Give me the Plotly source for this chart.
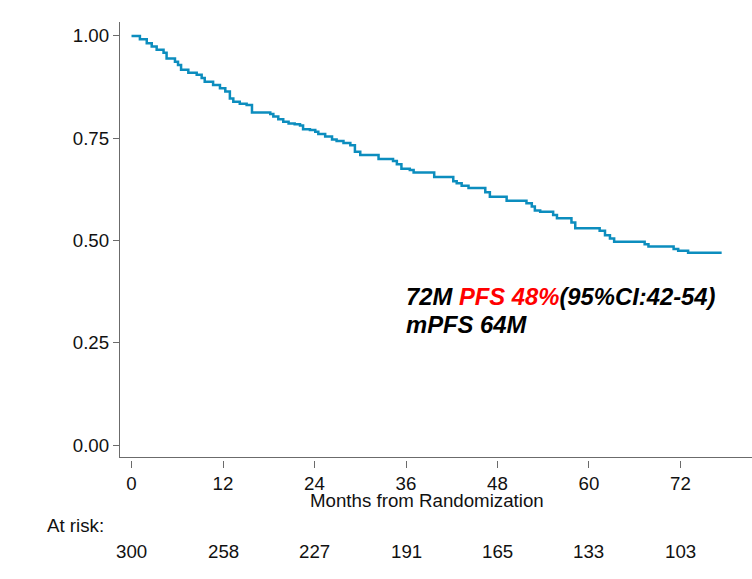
import plotly.graph_objects as go

# Kaplan-Meier progression-free survival estimate (step changes)
months = [0, 1.1, 2.0, 2.65, 3.3, 4.2, 4.6, 5.7, 6.1, 6.5, 7.45, 8.55, 9.2, 9.6,
          10.7, 11.6, 12.3, 12.9, 13.35, 14.2, 15.1, 15.8, 18.2, 18.6, 19.25,
          19.9, 20.6, 21.4, 22.1, 22.5, 23.4, 24.1, 24.5, 25.4, 26.3, 26.9,
          27.8, 28.7, 29.3, 30.0, 32.4, 34.3, 34.8, 35.4, 36.5, 37.0, 39.7,
          42.2, 42.65, 43.3, 44.2, 46.4, 47.0, 49.2, 51.8, 52.5, 52.9, 53.6,
          55.3, 55.8, 57.7, 58.2, 61.4, 62.1, 62.75, 63.3, 67.3, 67.8, 71.1,
          71.7, 73.0, 77.4]
survival = [1.0, 0.992, 0.982, 0.974, 0.966, 0.959, 0.945, 0.937, 0.929, 0.917,
            0.910, 0.905, 0.897, 0.888, 0.880, 0.872, 0.864, 0.847, 0.839,
            0.834, 0.831, 0.8125, 0.809, 0.803, 0.796, 0.790, 0.786, 0.784,
            0.781, 0.772, 0.770, 0.766, 0.760, 0.754, 0.747, 0.743, 0.738,
            0.733, 0.717, 0.709, 0.699, 0.694, 0.686, 0.675, 0.672, 0.666,
            0.655, 0.645, 0.640, 0.634, 0.628, 0.618, 0.607, 0.597, 0.591,
            0.583, 0.573, 0.570, 0.562, 0.554, 0.544, 0.530, 0.524, 0.513,
            0.505, 0.497, 0.491, 0.485, 0.479, 0.475, 0.470, 0.470]

# Number-at-risk table
risk_times = [0, 12, 24, 36, 48, 60, 72]
at_risk = [300, 258, 227, 191, 165, 133, 103]

y_ticks = [0, 0.25, 0.5, 0.75, 1.0]
y_tick_text = ["0.00", "0.25", "0.50", "0.75", "1.00"]

FONT = "Liberation Sans, Arial, sans-serif"
AXIS_GRAY = "#6b6b6b"
CURVE = "#0C8DBE"
TXT = "#111111"
FS = 18.7

W, H = 752, 579
M_L, M_R, M_T, M_B = 120, 0, 22, 119
PLOT_H = H - M_T - M_B
GAP = 3  # space between the x axis line and its tick marks

X_RANGE = [-1.51, 81.38]

fig = go.Figure()
fig.add_trace(go.Scatter(
    x=months, y=survival, mode="lines", line_shape="hv",
    line=dict(color=CURVE, width=2.5), hoverinfo="skip", showlegend=False,
))
# empty trace so the tick-only axis below the plot is drawn
fig.add_trace(go.Scatter(
    x=[risk_times[0]], y=[survival[0]], xaxis="x2", yaxis="y",
    mode="markers", marker=dict(opacity=0), hoverinfo="skip", showlegend=False,
))

fig.update_layout(
    width=W, height=H,
    margin=dict(l=M_L, r=M_R, t=M_T, b=M_B, pad=0),
    paper_bgcolor="white", plot_bgcolor="white",
    font=dict(family=FONT, size=FS, color=TXT),
    xaxis=dict(
        range=X_RANGE, showline=True, linecolor=AXIS_GRAY, linewidth=1.3,
        ticks="", showticklabels=False, showgrid=False, zeroline=False,
        anchor="y",
    ),
    xaxis2=dict(
        range=X_RANGE, overlaying="x", anchor="free", position=0,
        side="bottom",
        showline=False, showgrid=False, zeroline=False,
        tickvals=risk_times, ticktext=[str(t) for t in risk_times],
        ticks="outside", ticklen=7, tickwidth=1.2, tickcolor=AXIS_GRAY,
        tickfont=dict(family=FONT, size=FS, color=TXT),
    ),
    yaxis=dict(
        range=[-0.0293, 1.034], domain=[GAP / PLOT_H, 1],
        showline=True, linecolor=AXIS_GRAY, linewidth=1.3,
        tickvals=y_ticks, ticktext=y_tick_text,
        ticks="outside", ticklen=6, tickwidth=1.2, tickcolor=AXIS_GRAY,
        showgrid=False, zeroline=False,
        tickfont=dict(family=FONT, size=FS, color=TXT),
    ),
)

annotations = []
# x axis title
annotations.append(dict(
    text="Months from Randomization", xref="paper", yref="paper",
    x=0.485, y=0, yshift=-40, xanchor="center", yanchor="middle",
    showarrow=False, font=dict(family=FONT, size=FS, color=TXT),
))
# at-risk label and counts
annotations.append(dict(
    text="At risk:", xref="paper", yref="paper",
    x=-0.119, y=0, yshift=-65, xanchor="left", yanchor="middle",
    showarrow=False, font=dict(family=FONT, size=FS, color=TXT),
))
for t, n in zip(risk_times, at_risk):
    annotations.append(dict(
        text=str(n), xref="x", yref="paper", x=t, y=0, yshift=-91,
        xanchor="center", yanchor="middle", showarrow=False,
        font=dict(family=FONT, size=FS, color=TXT),
    ))
# survival summary
annotations.append(dict(
    text="<b><i>72M <span style='color:#ff0000'>PFS 48%</span>(95%CI:42-54)</i></b>",
    xref="x", yref="y", x=35.7, y=0.362, xanchor="left", yanchor="middle",
    showarrow=False, font=dict(family=FONT, size=23.8, color="#000000"),
))
annotations.append(dict(
    text="<b><i>mPFS 64M</i></b>",
    xref="x", yref="y", x=35.7, y=0.295, xanchor="left", yanchor="middle",
    showarrow=False, font=dict(family=FONT, size=23.8, color="#000000"),
))
fig.update_layout(annotations=annotations)

fig.write_html("out.html")
